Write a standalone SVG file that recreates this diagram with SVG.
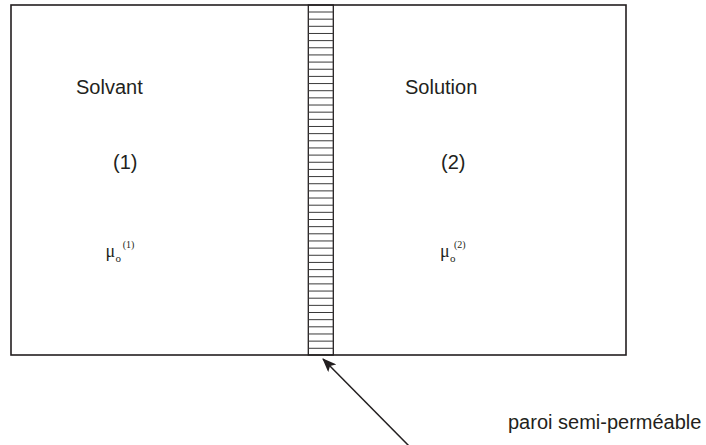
<svg xmlns="http://www.w3.org/2000/svg" width="706" height="445" viewBox="0 0 706 445">
<style>
.s{font-family:"Liberation Sans",Arial,sans-serif;font-size:20px;fill:#231f20}
.m{font-family:"Liberation Serif","Times New Roman",serif;fill:#231f20}
.ln{stroke:#231f20;fill:none}
.h{stroke:#3a3a3a;stroke-width:1}
</style>
<defs>
<marker id="ah" viewBox="0 0 14 11" refX="13" refY="5.5" markerWidth="14" markerHeight="11" markerUnits="userSpaceOnUse" orient="auto">
<path d="M0,0 L14,5.5 L0,11 L3,5.5 Z" fill="#231f20"/>
</marker>
</defs>
<rect x="0" y="0" width="706" height="445" fill="#fff"/>
<g id="container">
<rect class="ln" x="11" y="5" width="615" height="350" stroke-width="1.6"/>
</g>
<g id="membrane">
<rect class="ln" x="308.3" y="5" width="25" height="350" stroke-width="1.3"/>
<g class="h">
<line x1="308.3" x2="333.3" y1="12" y2="12"/>
<line x1="308.3" x2="333.3" y1="19.16" y2="19.16"/>
<line x1="308.3" x2="333.3" y1="26.31" y2="26.31"/>
<line x1="308.3" x2="333.3" y1="33.47" y2="33.47"/>
<line x1="308.3" x2="333.3" y1="40.62" y2="40.62"/>
<line x1="308.3" x2="333.3" y1="47.78" y2="47.78"/>
<line x1="308.3" x2="333.3" y1="54.93" y2="54.93"/>
<line x1="308.3" x2="333.3" y1="62.09" y2="62.09"/>
<line x1="308.3" x2="333.3" y1="69.24" y2="69.24"/>
<line x1="308.3" x2="333.3" y1="76.4" y2="76.4"/>
<line x1="308.3" x2="333.3" y1="83.55" y2="83.55"/>
<line x1="308.3" x2="333.3" y1="90.71" y2="90.71"/>
<line x1="308.3" x2="333.3" y1="97.86" y2="97.86"/>
<line x1="308.3" x2="333.3" y1="105.02" y2="105.02"/>
<line x1="308.3" x2="333.3" y1="112.17" y2="112.17"/>
<line x1="308.3" x2="333.3" y1="119.33" y2="119.33"/>
<line x1="308.3" x2="333.3" y1="126.48" y2="126.48"/>
<line x1="308.3" x2="333.3" y1="133.64" y2="133.64"/>
<line x1="308.3" x2="333.3" y1="140.79" y2="140.79"/>
<line x1="308.3" x2="333.3" y1="147.95" y2="147.95"/>
<line x1="308.3" x2="333.3" y1="155.1" y2="155.1"/>
<line x1="308.3" x2="333.3" y1="162.26" y2="162.26"/>
<line x1="308.3" x2="333.3" y1="169.41" y2="169.41"/>
<line x1="308.3" x2="333.3" y1="176.57" y2="176.57"/>
<line x1="308.3" x2="333.3" y1="183.72" y2="183.72"/>
<line x1="308.3" x2="333.3" y1="190.88" y2="190.88"/>
<line x1="308.3" x2="333.3" y1="198.03" y2="198.03"/>
<line x1="308.3" x2="333.3" y1="205.19" y2="205.19"/>
<line x1="308.3" x2="333.3" y1="212.34" y2="212.34"/>
<line x1="308.3" x2="333.3" y1="219.5" y2="219.5"/>
<line x1="308.3" x2="333.3" y1="226.65" y2="226.65"/>
<line x1="308.3" x2="333.3" y1="233.81" y2="233.81"/>
<line x1="308.3" x2="333.3" y1="240.96" y2="240.96"/>
<line x1="308.3" x2="333.3" y1="248.12" y2="248.12"/>
<line x1="308.3" x2="333.3" y1="255.27" y2="255.27"/>
<line x1="308.3" x2="333.3" y1="262.43" y2="262.43"/>
<line x1="308.3" x2="333.3" y1="269.58" y2="269.58"/>
<line x1="308.3" x2="333.3" y1="276.74" y2="276.74"/>
<line x1="308.3" x2="333.3" y1="283.89" y2="283.89"/>
<line x1="308.3" x2="333.3" y1="291.05" y2="291.05"/>
<line x1="308.3" x2="333.3" y1="298.2" y2="298.2"/>
<line x1="308.3" x2="333.3" y1="305.36" y2="305.36"/>
<line x1="308.3" x2="333.3" y1="312.51" y2="312.51"/>
<line x1="308.3" x2="333.3" y1="319.67" y2="319.67"/>
<line x1="308.3" x2="333.3" y1="326.82" y2="326.82"/>
<line x1="308.3" x2="333.3" y1="333.98" y2="333.98"/>
<line x1="308.3" x2="333.3" y1="341.13" y2="341.13"/>
<line x1="308.3" x2="333.3" y1="348.29" y2="348.29"/>
</g>
</g>
<g id="compartment-1">
<text class="s" x="76" y="94">Solvant</text>
<text class="s" x="113" y="169">(1)</text>
<text class="m" x="105.5" y="257" font-size="18">μ</text>
<text class="m" x="115.5" y="262" font-size="11">o</text>
<text class="m" x="122.7" y="247.5" font-size="10">(1)</text>
</g>
<g id="compartment-2">
<text class="s" x="405" y="94">Solution</text>
<text class="s" x="441" y="169">(2)</text>
<text class="m" x="440" y="257" font-size="18">μ</text>
<text class="m" x="450" y="262" font-size="11">o</text>
<text class="m" x="454" y="247.5" font-size="10">(2)</text>
</g>
<g id="label-paroi">
<text class="s" x="508" y="429">paroi semi-perméable</text>
</g>
<g id="connectors">
<line class="ln" x1="410" y1="447" x2="323" y2="359" stroke-width="1.5" marker-end="url(#ah)"/>
</g>
</svg>
